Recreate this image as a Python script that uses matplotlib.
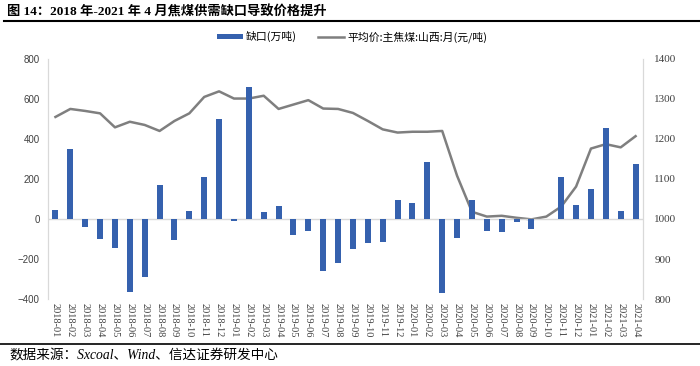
import matplotlib
matplotlib.use("Agg")
import matplotlib.pyplot as plt
import numpy as np

plt.rcParams['font.family'] = ['Liberation Serif', 'Noto Sans CJK SC', 'DejaVu Sans']

months = ['2018-01', '2018-02', '2018-03', '2018-04', '2018-05', '2018-06', '2018-07', '2018-08',
          '2018-09', '2018-10', '2018-11', '2018-12', '2019-01', '2019-02', '2019-03', '2019-04',
          '2019-05', '2019-06', '2019-07', '2019-08', '2019-09', '2019-10', '2019-11', '2019-12',
          '2020-01', '2020-02', '2020-03', '2020-04', '2020-05', '2020-06', '2020-07', '2020-08',
          '2020-09', '2020-10', '2020-11', '2020-12', '2021-01', '2021-02', '2021-03', '2021-04']

# 缺口 (万吨)
gap = [45, 348, -38, -101, -146, -363, -288, 170,
       -106, 40, 211, 501, -12, 661, 33, 63,
       -78, -62, -261, -221, -151, -118, -113, 97,
       80, 283, -368, -97, 97, -62, -67, -15,
       -50, 0, 211, 68, 148, 454, 38, 273]

# 平均价:主焦煤:山西:月 (元/吨)
price = [1255, 1275, 1270, 1264, 1229, 1243, 1235, 1220,
         1245, 1264, 1305, 1319, 1301, 1301, 1308, 1275,
         1286, 1297, 1276, 1275, 1265, 1245, 1224, 1216,
         1218, 1218, 1220, 1108, 1018, 1006, 1008, 1003,
         999, 1006, 1031, 1081, 1176, 1187, 1179, 1207]

bar_color = '#3561AE'
line_color = '#7F7F7F'
axis_gray = '#D9D9D9'

fig = plt.figure(figsize=(7.0, 3.66), dpi=100)
ax = fig.add_axes([0.0686, 0.183, 0.85, 0.656])
ax2 = ax.twinx()

x = np.arange(len(months))
ax.bar(x, gap, width=0.4, color=bar_color, zorder=3, label='缺口(万吨)')
ax.axhline(0, color=axis_gray, lw=1, zorder=2)
ax2.plot(x, price, color=line_color, lw=1.8, label='平均价:主焦煤:山西:月(元/吨)')

ax.set_xlim(-0.5, len(months) - 0.5)
ax.set_ylim(-400, 800)
ax.set_yticks(np.arange(-400, 801, 200))
ax2.set_ylim(800, 1400)
ax2.set_yticks(np.arange(800, 1401, 100))

ax.set_xticks(x)
ax.set_xticklabels(months, rotation=270, fontsize=7.5, color='#404040')
ax.tick_params(axis='x', length=0, pad=3)
ax.tick_params(axis='y', length=0, pad=6, labelsize=7, colors='#404040')
for t in ax.get_yticklabels():
    t.set_family(['Liberation Sans', 'DejaVu Sans'])
ax2.tick_params(axis='y', length=0, pad=8, labelsize=8, colors='#404040')

for a in (ax, ax2):
    a.spines['top'].set_visible(False)
    a.spines['bottom'].set_visible(False)
    a.spines['left'].set_color(axis_gray)
    a.spines['right'].set_color(axis_gray)
ax.set_zorder(ax2.get_zorder() + 1)
ax.patch.set_visible(False)

h1, l1 = ax.get_legend_handles_labels()
h2, l2 = ax2.get_legend_handles_labels()
fig.legend(h1 + h2, l1 + l2, loc='center', bbox_to_anchor=(0.503, 0.899), ncol=2,
           frameon=False, handlelength=2.4, handleheight=0.35,
           columnspacing=2.0, handletextpad=0.3,
           prop={'family': ['Noto Sans CJK SC', 'DejaVu Sans'], 'size': 7.8})

fig.text(0.01, 0.966, '图 14：2018 年-2021 年 4 月焦煤供需缺口导致价格提升',
         fontsize=9.5, fontweight='bold', ha='left', va='center')
fig.add_artist(plt.Line2D([0.006, 1.0], [0.942, 0.942], color='black', lw=1.5))
fig.add_artist(plt.Line2D([0.0, 1.0], [0.06, 0.06], color='black', lw=1.2))
fig.text(0.013, 0.028, '数据来源：Sxcoal、Wind、信达证券研发中心',
         fontsize=9.8, style='italic', ha='left', va='center')

fig.savefig('out.png', dpi=100)
